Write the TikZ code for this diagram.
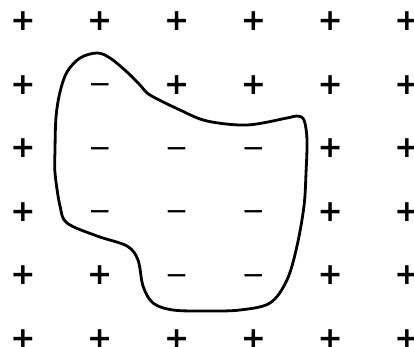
\documentclass[tikz,border=0pt]{standalone}
\usepackage{fontspec}
\newfontfamily\signfont{DejaVu Sans}
\begin{document}
\begin{tikzpicture}[x=1pt,y=1pt,
  plussign/.style={inner sep=0pt,text height=21pt,text depth=0pt,
    font=\signfont\bfseries\fontsize{30}{30}\selectfont},
  minussign/.style={inner sep=0pt,text height=20pt,text depth=0pt,
    font=\signfont\fontsize{28}{28}\selectfont},
  boundary/.style={line width=2.8pt,line join=round}]
\useasboundingbox (0,0) rectangle (414,346);
% signs outside the curve (column/row, row 0 at the top)
\foreach \cl/\rw in {0/0,1/0,2/0,3/0,4/0,5/0, 0/1,2/1,3/1,4/1,5/1,
    0/2,4/2,5/2, 0/3,4/3,5/3, 0/4,1/4,4/4,5/4, 0/5,1/5,2/5,3/5,4/5,5/5}{
  \pgfmathsetmacro{\px}{23+76.8*\cl}
  \pgfmathsetmacro{\py}{326-63.6*\rw}
  \path (\px,\py) node[plussign] (s\rw\cl) {+};
}
% signs inside the curve
\foreach \cl/\rw in {1/1, 1/2,2/2,3/2, 1/3,2/3,3/3, 2/4,3/4}{
  \pgfmathsetmacro{\px}{23+76.8*\cl}
  \pgfmathsetmacro{\py}{326-63.6*\rw}
  \path (\px,\py) node[minussign] (s\rw\cl) {−};
}
% closed boundary curve
\draw[boundary] plot[smooth cycle,tension=0.55] coordinates {
  (97,293) (110,288) (127,274) (140,261) (150,251) (180,236) (207,225)
  (247,221) (287,228) (297,230) (304,226) (307,206) (306,173) (304,140)
  (297,100) (287,66) (270,43) (240,36) (207,35) (173,36) (153,43)
  (143,60) (138,86) (127,100) (97,110) (67,123) (60,140) (55,173)
  (55,196) (56,229) (60,254) (67,274) (80,288)};
\end{tikzpicture}
\end{document}
